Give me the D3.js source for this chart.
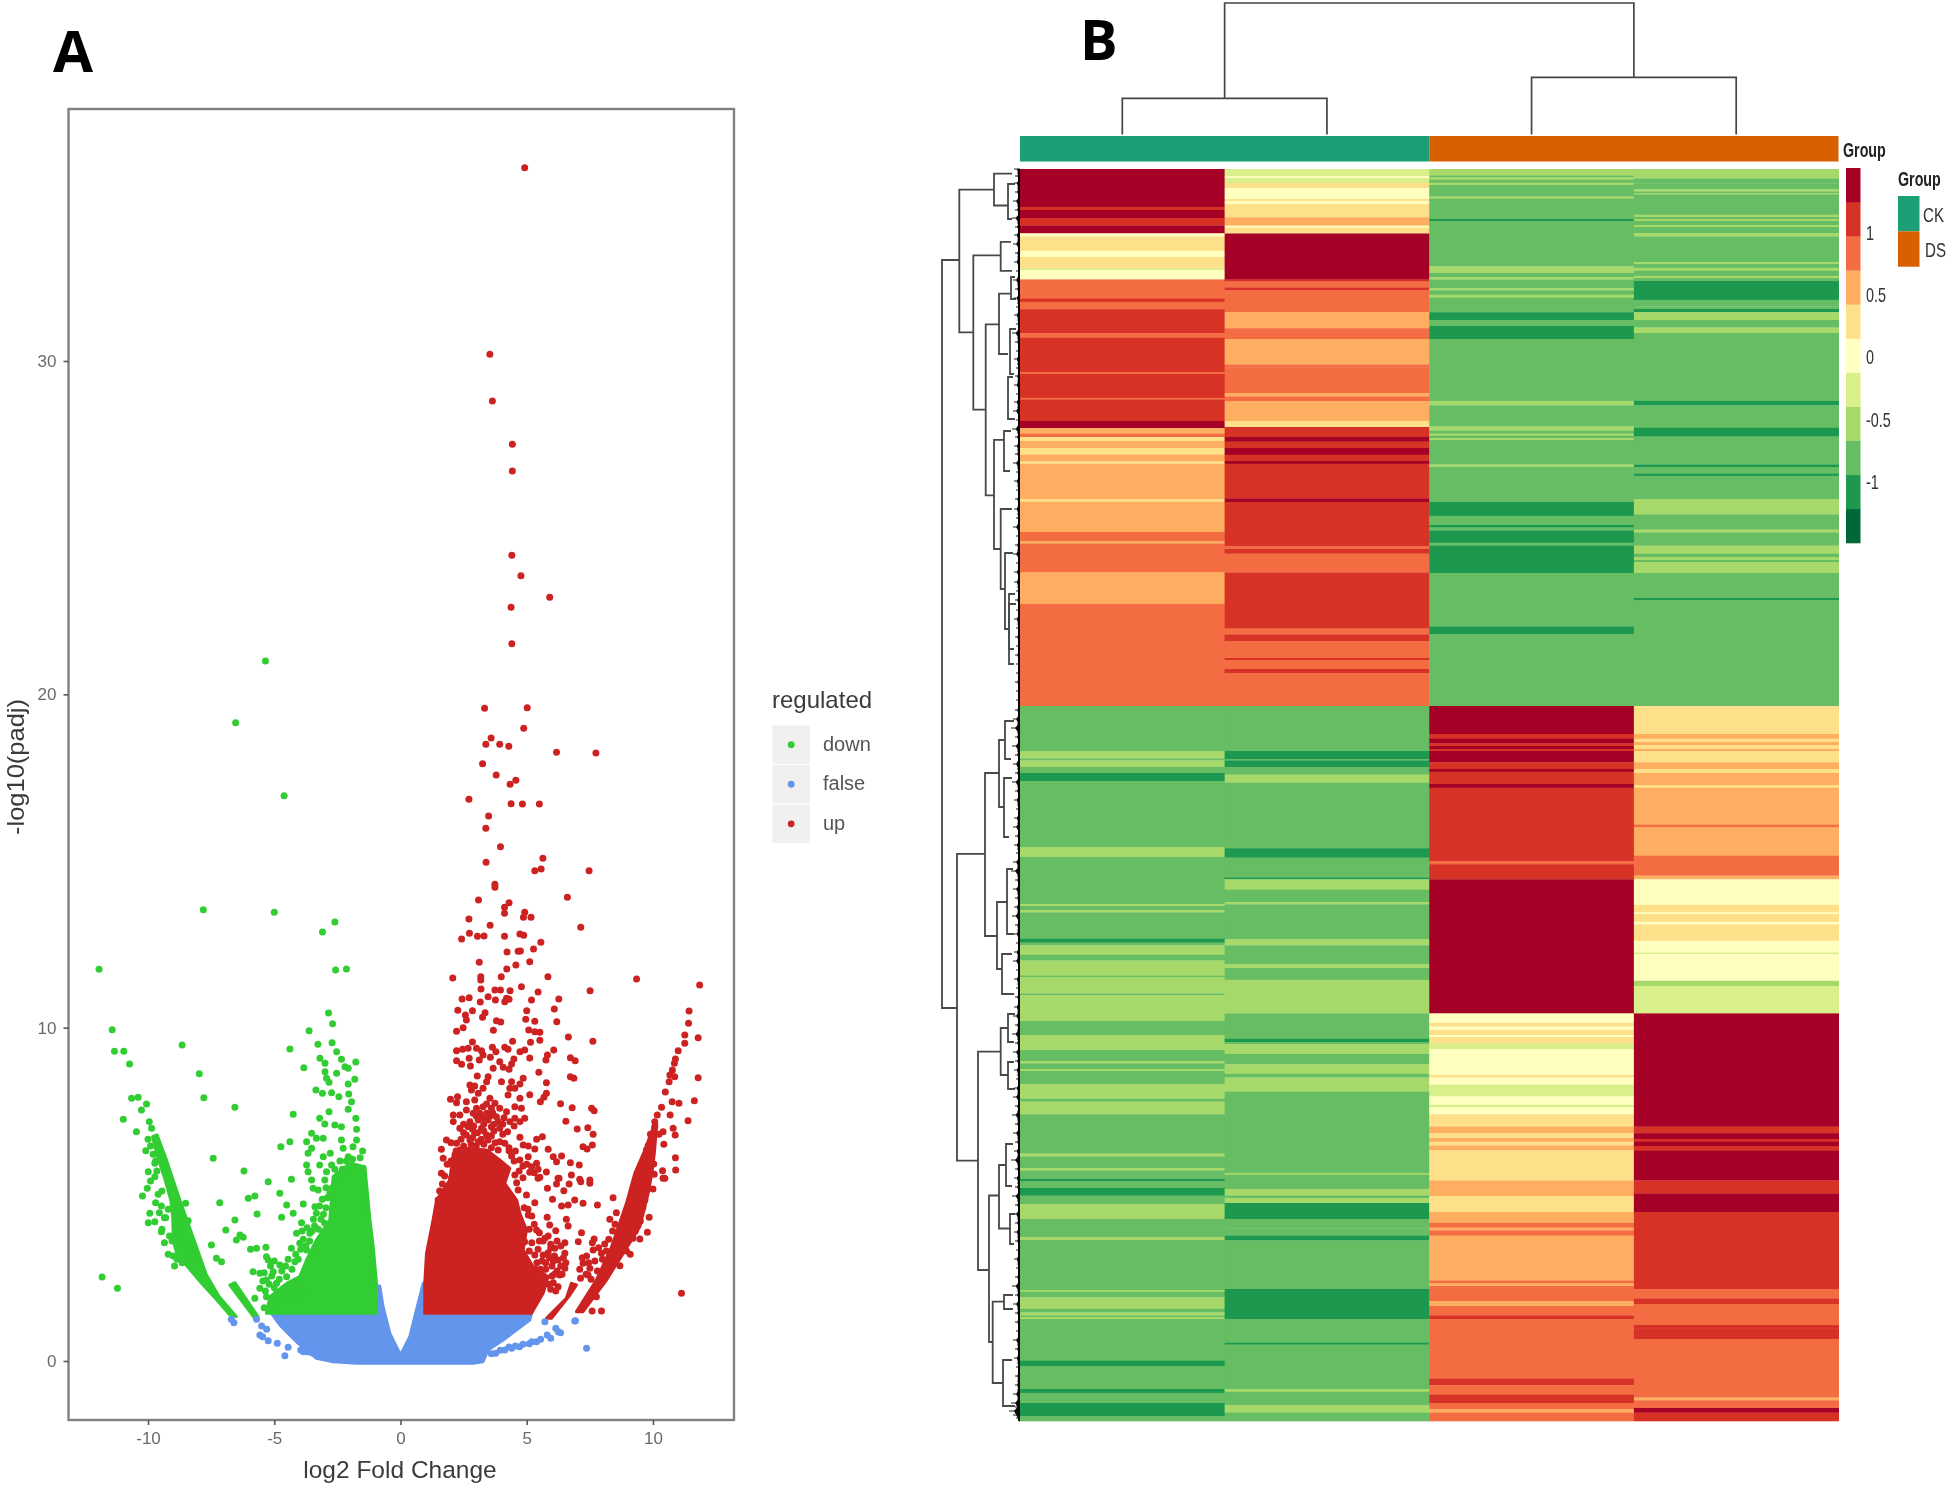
<!DOCTYPE html>
<html><head><meta charset="utf-8">
<script src="https://cdn.jsdelivr.net/npm/d3@7"></script>
<style>
html,body{margin:0;padding:0;background:#fff}
svg{display:block}
text{font-family:"Liberation Sans",Arial,sans-serif}
</style></head><body>
<svg id="c" width="1946" height="1487"></svg>
<script>
// ---------- Panel A: volcano ----------
const xTicks=[-10,-5,0,5,10], yTicks=[0,10,20,30];
const legendLabels=["down","false","up"];
// Solid clouds read as outlines [log2FC, -log10(padj)]
const falseCloud=[[-5.11,1.43],[-4.78,1.08],[-4.45,.83],[-4.05,.53],[-3.72,.33],[-3.33,.08],[-2.67,-.02],[-1.74,-.07],[2.88,-.07],[3.27,-.02],[3.47,.33],[4.07,.63],[4.59,.93],[5.12,1.23],[5.19,1.43],[.96,1.43],[.96,2.33],[.9,2.33],[.63,1.53],[.37,.73],[0,.18],[-.42,.83],[-.69,1.63],[-.82,2.25],[-.92,2.25],[-.92,1.43]];
const downCloud=[[-.95,1.43],[-.95,2.33],[-1.08,3.43],[-1.21,4.23],[-1.41,5.83],[-2.01,5.93],[-2.67,5.53],[-2.8,4.23],[-3.33,3.63],[-3.72,3.03],[-3.99,2.53],[-4.51,2.33],[-5.17,1.93],[-5.31,1.43]];
const downArm=[[-6.76,1.38],[-7.3,1.85],[-7.88,2.33],[-8.4,2.8],[-8.85,3.2],[-9,3.6],[-9.02,4.3],[-9.1,4.83],[-9.35,5.5],[-9.65,6.2],[-9.82,6.73],[-9.64,6.78],[-9.3,6.1],[-8.95,5.3],[-8.74,4.83],[-8.4,4.1],[-8.08,3.43],[-7.7,2.6],[-7.2,1.95],[-6.5,1.33]];
const downBand=[[-6.76,2.28],[-6.56,2.35],[-5.64,1.33],[-5.77,1.28]];
const upCloud=[[.96,1.43],[.96,2.33],[1.03,3.23],[1.29,4.23],[1.43,4.83],[1.95,5.43],[2.09,6.23],[2.61,6.38],[3.41,6.33],[3.93,6.03],[4.33,5.78],[4.13,5.33],[4.6,4.83],[4.73,4.43],[4.99,3.93],[4.86,3.33],[5.25,2.83],[5.85,2.53],[5.65,2.03],[5.19,1.43]];
const upArm=[[6.97,1.48],[7.76,2.43],[8.36,3.43],[8.95,4.73],[9.28,5.63],[9.68,6.33],[10.07,7.13],[10.15,7.1],[10.05,6.2],[9.95,5.6],[9.8,5],[9.48,4.03],[8.82,3.23],[8.16,2.43],[7.23,1.48]];
const upBand=[[5.78,1.28],[6.57,1.88],[6.77,2.33],[6.97,2.28],[6.71,1.98],[5.98,1.28]];
// Separate points
const falsePoints=[[-6.7,1.25],[-6.6,1.15],[-5.7,1.25],[-5.5,1.05],[-5.3,.95],[-5.57,.78],[-5.46,.73],[-5.24,.61],[-4.88,.53],[-4.45,.41],[-4.58,.16],[-3.85,.28],[-3.52,.25],[6.93,1.21],[7.37,.38],[5.72,1.18],[6.25,.88],[5.95,.68],[5.39,.58],[4.71,.43],[4.13,.33],[3.77,.23],[6.15,.98],[6.34,.85],[5.81,.78],[6.9,1.2],[5.1,.52],[4.4,.38],[3.6,.22],[3.95,.32],[4.3,.42],[4.55,.45],[4.85,.5],[5.2,.58],[5.55,.65],[-3.7,.28],[-3.95,.33]];
const downPoints=[[-5.35,21],[-6.53,19.15],[-4.61,16.96],[-7.81,13.54],[-5,13.46],[-2.6,13.17],[-3.09,12.87],[-11.94,11.75],[-2.57,11.73],[-2.14,11.76],[-2.85,10.44],[-2.69,10.12],[-3.62,9.91],[-11.42,9.94],[-11.33,9.29],[-10.96,9.29],[-10.73,8.91],[-8.65,9.48],[-7.97,8.62],[-4.38,9.36],[-3.27,9.5],[-2.71,9.55],[-3.83,8.8],[-2.53,9.28],[-2.34,9.05],[-3.19,9.08],[-2.99,8.93],[-1.77,8.97],[-2.2,8.83],[-2.07,8.78],[-2.99,8.68],[-2.53,8.63],[-2.93,8.48],[-1.81,8.45],[-2.07,8.31],[-2.83,8.36],[-3.35,8.13],[-3.09,8.03],[-2.73,8.05],[-2.44,7.93],[-2.05,8.01],[-1.94,7.78],[-2.07,7.55],[-7.79,7.9],[-10.65,7.88],[-10.39,7.91],[-10.06,7.71],[-10.26,7.53],[-6.56,7.61],[-4.25,7.4],[-2.83,7.48],[-3.2,7.28],[-10.98,7.25],[-9.95,7.18],[-9.86,6.98],[-10.46,6.88],[-3,7.11],[-2.6,7.08],[-2.34,7.03],[-1.77,7.28],[-1.74,6.95],[-3.52,6.83],[-3.72,6.58],[-3.33,6.68],[-3.06,6.68],[-2.34,6.63],[-1.74,6.63],[-4.38,6.58],[-4.74,6.43],[-1.88,6.43],[-3.52,6.38],[-2.27,6.38],[-2.78,6.23],[-10.09,6.31],[-3.66,6.23],[-3.06,6.13],[-2.07,6.13],[-7.42,6.08],[-3.72,5.88],[-3.2,5.88],[-2.73,5.88],[-3.66,5.68],[-3.52,5.43],[-2.93,5.68],[-3,5.43],[-6.2,5.7],[-9.99,5.68],[-9.73,5.93],[-9.73,5.53],[-4.32,5.45],[-5.24,5.38],[-3.46,5.18],[-3.26,5.13],[-2.8,5.03],[-4.78,5.03],[-10.03,5.18],[-10.22,4.95],[-5.77,4.95],[-6.03,4.88],[-8.51,4.73],[-7.16,4.75],[-4.51,4.68],[-3.85,4.71],[-3.39,4.63],[-9.47,4.65],[-4.25,4.43],[-3.33,4.43],[-5.68,4.41],[-4.71,4.31],[-9.93,4.43],[-9.99,4.15],[-9.73,4.18],[-6.56,4.23],[-3.92,4.15],[-8.41,4.21],[-3,4.13],[-6.92,3.93],[-9.47,3.88],[-4.12,3.83],[-6.36,3.78],[-6.23,3.71],[-6.5,3.63],[-3.59,3.83],[-3.99,3.53],[-7.49,3.48],[-5.94,3.35],[-5.7,3.38],[-5.33,3.41],[-4.32,3.38],[-3.72,3.33],[-7.29,3.08],[-7.09,2.98],[-5.31,3.13],[-5.24,3.03],[-4.18,2.98],[-4.78,2.88],[-5.84,2.68],[-5.57,2.63],[-5.04,2.68],[-4.51,2.53],[-5.31,2.43],[-5.57,2.18],[-4.91,2.33],[-4.12,2.33],[-5.77,1.88],[-5.31,1.93],[-4.84,1.93],[-11.82,2.52],[-11.21,2.18],[-5.4,1.6],[-5.1,1.6],[-4.6,1.7],[-4.2,1.9],[-3.85,2.1],[-9.05,3.6],[-8.75,3.3],[-9.3,4.3],[-9.2,3.2],
[-5.35,2.1],[-5.2,2.3],[-5.45,2.4],[-5.1,2.55],[-5,2.2],[-4.8,2.45],[-4.7,2.7],[-4.55,2.85],[-5.15,2.85],[-5,3],[-4.9,2.05],[-4.65,2.15],[-5.4,2.65],[-4.45,3.05],[-4.3,2.75],[-4.15,3.2],[-4.05,3.05],[-3.95,3.35],[-3.85,3.65],[-3.75,3.45],[-3.6,3.6],[-3.5,3.9],[-3.4,4.05],[-3.25,3.95],[-3.15,4.25],[-3.05,4.4],[-3.45,4.25],[-3.7,4],[-3.9,3.9],[-3.2,4.65],[-3.1,4.85],[-2.95,4.6],[-2.9,4.9],[-2.7,5.2],[-2.95,5.2],[-2.5,5.55],[-2.3,5.75],[-2.15,6],[-1.9,6.05],[-2.6,5.75],[-2.4,6],[-1.6,6.1],[-1.5,6.3],
[-9.45,5.1],[-9.6,5],[-9.7,4.75],[-9.55,4.45],[-9.35,4.3],[-9.2,4.55],[-9.45,3.95],[-9.15,3.75],[-9.35,3.55],[-9,3.15],[-8.85,3.05],[-8.65,2.95],[-8.95,2.85],[-9.7,6],[-9.8,6.2],[-9.9,6.45],[-10,6.65],[-9.65,5.7],[-9.9,5.4],[-8.9,4.4],[-8.7,4.15],[-8.8,3.75],[-8.6,3.5],[-8.45,3.15]];
const upPoints=[[4.92,35.8],[3.54,30.2],[3.64,28.8],[4.43,27.5],[4.43,26.7],[4.41,24.17],[4.77,23.56],[5.91,22.91],[4.38,22.61],[4.41,21.52],[3.33,19.58],[5.02,19.6],[4.88,18.98],[3.59,18.69],[3.38,18.5],[3.93,18.5],[4.29,18.44],[6.18,18.26],[7.74,18.24],[3.25,17.92],[3.79,17.58],[4.57,17.42],[4.34,17.3],[2.71,16.85],[4.38,16.72],[4.83,16.71],[5.5,16.71],[3.49,16.35],[3.38,15.98],[3.96,15.43],[3.39,14.96],[5.64,15.08],[5.32,14.71],[5.57,14.76],[7.47,14.71],[3.74,14.3],[3.74,14.21],[6.61,13.91],[3.09,13.83],[4.3,13.75],[4.12,13.61],[4.12,13.43],[4.92,13.46],[4.87,13.31],[5.17,13.31],[2.71,13.26],[3.55,13.07],[7.14,13.01],[2.73,12.83],[2.42,12.66],[3.05,12.74],[3.31,12.75],[4.12,12.74],[4.73,12.81],[4.88,12.77],[5.56,12.56],[5.27,12.36],[4.22,12.27],[4.66,12.29],[4.75,12.3],[3.12,11.96],[4.57,11.88],[5.12,11.98],[4.21,11.76],[3.99,11.53],[3.18,11.53],[2.07,11.49],[5.84,11.53],[9.35,11.46],[11.85,11.28],[3.18,11.43],[3.19,11.16],[3.74,11.13],[3.96,11.13],[4.34,11.11],[4.79,11.23],[5.45,11.07],[7.51,11.11],[3.47,10.93],[2.72,10.9],[2.44,10.86],[4.2,10.88],[3.76,10.83],[5.19,10.83],[6.27,10.86],
[3.16,10.77],[4.13,10.78],[4.3,10.85],[2.27,10.52],[2.85,10.51],[3.35,10.45],[3.25,10.31],[5,10.51],[6.09,10.56],[11.43,10.5],[2.57,10.38],[2.61,10.23],[3.8,10.21],[3.97,10.17],[4.96,10.25],[5.32,10.19],[6.19,10.18],[11.41,10.13],[2.48,10],[2.22,9.89],[3.68,9.92],[5.08,9.93],[5.32,9.88],[5.52,9.86],[6.65,9.72],[11.26,9.78],[11.79,9.7],[5.52,9.62],[5.15,9.56],[4.44,9.59],[7.62,9.59],[2.85,9.57],[11.26,9.53],[2.22,9.31],[2.46,9.35],[2.68,9.38],[3.01,9.38],[3.21,9.31],[3.64,9.41],[3.78,9.28],[4.13,9.41],[4.26,9.35],[4.73,9.28],[4.92,9.33],[6.07,9.33],[11,9.31],[3.27,9.18],[3.56,9.11],[5.12,9.09],[5.82,9.18],[5.76,9.03],[6.73,9.1],[6.92,9.01],[10.89,9.06],[2.22,9.01],[2.42,8.9],[2.72,9.08],[2.77,8.85],[3.12,9.03],[3.93,8.98],[4.49,9.06],[4.4,8.91],[3.67,8.78],[4.07,8.81],[4.3,8.75],[10.85,8.93],[10.77,8.73],[10.67,8.58],[10.86,8.53],[10.64,8.38],[5.48,8.66],[3.04,8.55],[3.47,8.53],[6.73,8.53],[6.87,8.48],[11.79,8.5],[3.41,8.38],[4,8.38],[4.86,8.48],[5.78,8.35],[4.4,8.38],[4.73,8.31],[2.75,8.28],[2.94,8.25],[3.27,8.18],[4.33,8.18],[4.53,8.18],[2.81,8.13],[3.08,8.03],[10.49,8.07],[4.26,7.98],[5.12,7.99],[5.78,8.03],[5.68,7.91],[5.54,7.78],[4.73,7.88],[2.26,7.93],[1.98,7.85],[2.22,7.75],[2.61,7.78],[2.94,7.83],[3.54,7.88],[3.41,7.71],[3.74,7.73],[10.76,7.78],[11.03,7.73],[11.64,7.81],[6.34,7.72],[10.34,7.61],[6.8,7.6],[7.57,7.58],[7.67,7.51],[2.61,7.53],[3.01,7.58],[3.27,7.63],[3.6,7.58],[3.93,7.58],[4.2,7.48],[4.53,7.63],[4.79,7.58],[10.68,7.38],[10.17,7.38],[2.09,7.38],[2.35,7.38],[2.88,7.43],[3.14,7.43],[3.41,7.43],[3.8,7.33],[4.53,7.28],[4.92,7.28],[2.09,7.18],[2.75,7.18],[3.08,7.23],[3.47,7.23],[3.87,7.18],[4.33,7.18],[4.73,7.18],[11.39,7.21],[6.55,7.19],[10.07,7.18],[10.07,7.03],[2.35,6.98],[2.68,7.03],[3.21,6.98],[3.6,7.03],[3.93,6.98],[7,6.96],[7.42,7],[10.8,6.98],[10.4,6.88],[9.9,6.8],[10.24,6.8],[10.88,6.78],[7.63,6.8],[4.24,6.88],[2.61,6.78],[2.94,6.83],[3.41,6.78],[4.73,6.71],[5.39,6.65],[5.62,6.73],[1.82,6.63],[2.22,6.53],[2.75,6.63],[3.08,6.58],[3.47,6.63],[3.93,6.58],[4.86,6.48],[5.06,6.45],[4.13,6.53],[10.43,6.5],[7.6,6.48],[7.23,6.43],[7.39,6.36],[9.81,6.46],[9.74,6.33],[5.32,6.36],[5.85,6.35],[1.62,6.35],[4.3,6.31],[3.87,6.33],[2.35,6.33],[10.89,6.1],[1.69,6.08],[4.73,6.03],[5.06,6.13],[6.05,6.13],[6.38,6.15],[6.18,5.98],[6.73,5.95],[7.08,5.88],[5.39,5.93],[10.03,5.91],[9.68,5.88],[5.19,5.83],[10.9,5.73],[10.38,5.71],[9.41,5.68],[1.62,5.63],[5.78,5.67],[5.12,5.66],[4.53,5.58],[6.77,5.58],[5.52,5.51],[6.28,5.48],[2.02,5.48],[10.47,5.48],[9.35,5.51],[7.1,5.45],[7.5,5.43],
[1.66,5.31],[1.49,4.83],[5.45,5.48],[6.24,5.48],[6.18,5.31],[5.82,5.18],[6.68,5.31],[6.47,5.11],[7.14,5.38],[7.5,5.33],[8.42,4.9],[7.8,4.68],[6.02,4.85],[6.38,4.65],[6.9,4.83],[7.23,4.73],[6.64,4.68],[5.32,4.75],[4.99,4.98],[4.66,5.13],[8.29,4.25],[8.55,4.45],[9.85,4.31],[5.81,4.31],[6.57,4.25],[6.64,4.05],[5.91,4.08],[6.15,3.91],[5.39,3.93],[5.06,4.38],[7.17,3.85],[7.04,3.58],[7.67,3.66],[9.78,3.86],[9.48,3.66],[8.09,3.51],[5.72,3.68],[6.51,3.55],[4.92,3.58],[7.63,3.33],[7.37,3.15],[7.96,3.23],[6.51,3.23],[6.11,3.38],[5.32,3.18],[5.65,3.18],[7.23,2.93],[7.5,2.78],[8.69,2.86],[6.51,2.78],[6.24,3.03],[6.31,2.58],[7.43,2.58],[7.13,2.48],[6.24,2.23],[7.76,1.93],[7.59,1.5],[7.96,1.5],[11.13,2.03],[10,5.16],[9.35,5.13],[9.68,4.83],[9.35,4.43],[9.21,3.68],[10.4,5.48],[5.5,3.6],[5.95,3.5],[5.75,2.95],[6,2.85],[6.1,2.6],[5.55,2.75],[5.9,3.1],
[4.9,4.6],[5.05,4.55],[5.2,4.35],[5.3,4.1],[5.1,3.95],[5.5,3.85],[5.65,3.6],[5.85,3.75],[5.95,3.4],[6.2,3.6],[6.35,3.45],[6.45,3.1],[5.2,3.55],[5.1,3.3],[5.45,3.35],[5.85,3.25],[6.1,3.15],[5.4,2.95],[5.6,3],[6.05,3],[6.35,2.85],[6.55,2.95],[5.35,2.75],[5.75,2.75],[6,2.55],[6.2,2.7],[6.4,2.6],[6.05,2.35],[6.15,2.1],[5.95,2.15],[5.85,2.3],[7.2,3.1],[7.45,2.95],[7.1,2.75],[7.35,2.6],[7.55,2.45],[7.7,3],[7.8,2.7],[7.85,3.4],[7.6,3.55],[8,3.05],[8.15,3.3],[8.25,3.65],[8.4,3.9],[8.5,4.1],[8.7,4],[9.1,3.2],[9.3,3.9],[9.5,4.2],[9.6,4.6],[9.75,5.3],[10.05,5.6],[8.95,3.3],[9.15,4.7],
[2.5,6.45],[2.8,6.5],[3,6.45],[3.3,6.5],[3.6,6.4],[2,6.55],[2.2,6.3],[2.4,6.65],[2.85,6.7],[3.2,6.65],[3.6,6.75],[3.75,6.55],[2.5,6.85],[2.85,6.95],[3.05,6.85],[3.3,6.9],[3.7,6.9],[4.05,6.8],[2.5,7.1],[2.9,7.05],[3.3,7.1],[3.7,7.1],[4.05,7.1],[4.5,7.05],[3,7.35],[3.25,7.3],[3.55,7.35],[3.65,7.45],[4.1,7.3],[4.3,6.4],[4.55,6.3],[4.5,6],[4.4,6.15],[4.85,5.85],[4.7,5.7],[5,5.9],[4.85,5.5],[4.6,5.35],[5.3,5.65],[5.45,5.75],[2,6],[1.85,5.9],[1.75,5.55],[1.9,5.25],[1.55,5.1]];
// ---------- Panel B: heatmap ----------
const groups=["CK","DS"];
const legendBreaks=[-1,-0.5,0,0.5,1];
const barColors=["#1b9e77","#d95f02"];
const levelColors=["#006837","#1a9850","#66bd63","#a6d96a","#d9ef8b","#ffffbf","#fee08b","#fdae61","#f46d43","#d73027","#a50026"];
// Runs per sample: [last row of the run, colour level 0..10]
const sample1=[[38,10],[41,9],[49,10],[56.5,9],[64.3,10],[67.5,5],[81.8,6],[88,5],[99.4,6],[101,4],[110.4,5],[129.6,8],[132.8,9],[140.2,8],[164.3,9],[168.8,8],[203,9],[205,8],[228.8,9],[230.4,8],[252,9],[259,10],[264.7,7],[268,8],[272,6],[279,7],[285.5,6],[292.4,7],[294.9,6],[330,7],[332.8,6],[363,7],[372,8],[374.5,7],[403.4,8],[434.9,7],[537,8],[582,2],[589.5,3],[591.4,2],[598,3],[604,2],[612,1],[678,2],[682,3],[688,3],[735,2],[737,3],[741,2],[743.4,3],[769.8,2],[773.6,1],[776.4,2],[785.8,3],[791.5,2],[806.6,3],[808,2],[824.5,3],[826,2],[852,3],[866,2],[881,3],[892,2],[894.3,3],[900,2],[902,3],[915,2],[929.8,3],[932.6,2],[945.3,3],[984.5,2],[987.4,3],[999,2],[1001.5,3],[1010,2],[1012.4,1],[1019,2],[1026.6,1],[1035,2],[1050,3],[1068,2],[1071,3],[1121,2],[1122.8,3],[1128.4,2],[1139.8,3],[1143.5,2],[1146.4,3],[1148,2],[1150,3],[1191.7,2],[1197,1],[1220,2],[1223.8,1],[1234,2],[1247.4,1],[1252,2]];
const sample2=[[7.2,4],[9,5],[14,4],[19,6],[30,5],[32,6],[35,5],[48.3,6],[56.6,7],[58.5,5],[64.5,6],[110.5,10],[112.5,9],[118.5,8],[121.4,9],[143.2,8],[159.2,7],[170,8],[173,7],[195.5,7],[198.5,8],[224,8],[227.5,7],[232,8],[252,7],[258,6],[268,9],[272.6,10],[279,9],[285.7,10],[292,9],[294.8,10],[329.4,9],[333,10],[377.4,9],[380,8],[384.6,9],[403.5,8],[459.5,9],[465.4,8],[472,9],[489,8],[491,9],[500,8],[504,9],[537,8],[582,2],[590,1],[591.4,2],[598,1],[605.6,2],[613.6,3],[679.2,2],[688.6,1],[693.8,2],[708.4,2],[710.3,1],[720.7,3],[733,2],[735.3,3],[770.3,2],[776.4,3],[795.3,2],[799,3],[810.8,2],[844.4,3],[869.8,2],[873,1],[875,2],[885,3],[895.3,2],[904.8,3],[908.5,2],[922.7,3],[1003.9,2],[1005.7,3],[1019.9,2],[1026.5,3],[1028.9,2],[1034,3],[1050,1],[1059.5,2],[1066.6,2],[1071.4,1],[1120,2],[1150,1],[1173.7,2],[1175.6,1],[1220,2],[1222.8,3],[1236,2],[1243.6,3],[1252,2]];
const sample3=[[6.5,3],[8.3,2],[10.8,3],[13.7,2],[16,3],[27.5,2],[29.7,3],[50,2],[52,1],[97.4,2],[104,3],[108.3,2],[110.5,3],[119.2,2],[121.4,3],[125.7,2],[128.6,3],[143.2,2],[151.2,1],[157,2],[170,1],[231.9,2],[236.3,3],[257.4,2],[261.7,3],[264.6,2],[266.8,3],[269,2],[271,3],[295.5,2],[298,3],[333,2],[346.8,1],[356,2],[358.5,1],[361.4,2],[373.7,1],[376.6,2],[404,1],[457.4,2],[465.4,1],[537,2],[565,10],[569.7,9],[574.4,10],[577,9],[580,10],[582,9],[593.3,10],[600,9],[602.7,10],[615,9],[618.8,10],[692.4,9],[695.2,8],[710.3,9],[844.4,10],[853.8,5],[857.6,6],[861,5],[866,6],[868,5],[874.6,6],[880.2,4],[906,5],[908.5,6],[915.6,5],[927.4,4],[935.9,5],[938,4],[945.3,5],[957.6,6],[964.2,7],[969,6],[972.7,7],[976.5,6],[981.2,7],[1011.4,6],[1024,7],[1027,7],[1043,6],[1053.9,7],[1058.6,8],[1061.4,7],[1066.6,8],[1111.5,7],[1114,8],[1117,7],[1132,8],[1137,7],[1146.4,8],[1150,9],[1209.6,8],[1216.2,9],[1225.7,8],[1234,9],[1240,8],[1243.6,7],[1252,8]];
const sample4=[[9.4,3],[14.5,2],[20.3,2],[22.5,3],[24,2],[25.4,3],[45.7,2],[48,3],[50,2],[52,3],[56,2],[58,3],[64,2],[67.5,3],[93,2],[95,3],[98.8,2],[101.7,3],[106.8,2],[109,3],[112,2],[116,1],[130.8,1],[137.4,2],[140,2],[143.2,1],[151,3],[158.5,2],[164,3],[231.9,2],[236.3,1],[258.8,2],[267.5,1],[271,2],[295.5,2],[298,1],[304.6,2],[306.8,1],[330,2],[345.4,3],[360.6,2],[363.5,3],[376.6,2],[384.6,3],[388,2],[391,3],[393,2],[404,3],[429,2],[431,1],[537,2],[565,6],[569.7,7],[573,6],[576,7],[580,6],[582,7],[593.3,6],[600,7],[604,6],[616,7],[618.8,6],[655.6,7],[658.4,8],[686.7,7],[706.6,8],[710.3,7],[735.8,5],[743.4,6],[745,5],[752.8,6],[755.5,5],[771.7,6],[783.5,5],[785,4],[811.8,5],[817,3],[844.4,4],[957.6,10],[964.2,9],[969.9,10],[972.7,9],[977,10],[981.7,9],[1011.4,10],[1024.6,9],[1043,10],[1120,9],[1129.4,8],[1135,9],[1156,8],[1159.6,9],[1170,9],[1228.5,8],[1231.3,7],[1239,8],[1243.6,10],[1252,9]];
const samples=[sample1,sample2,sample3,sample4];
// Column tree nodes
const colTreeNodes=[{h:131,a:.5,b:2.5,ha:36,hb:57},{h:36,a:0,b:1,ha:0,hb:0},{h:57,a:2,b:3,ha:0,hb:0}];
// Row tree: [height, top row, bottom row, height of top child, height of bottom child]
const rowTree=[[78,91,839,60.7,63],[60.7,20.6,163.4,26,46.7],[26,4.7,36.5,8,12],[46.7,86.3,240.6,19.3,34.3],[19.3,72.8,101.8,9,8],[34.3,155.3,326.3,21,26],[21,124.7,185,10,12],[26,270.8,380,16,19.3],[16,262,302,9,10],[19.3,340,420,8,15],[15,384,460,7,11],[11,425,495,5,6],[12,15,50,5,8],[63,684.8,991.6,35,42],[35,604,767,21,23],[21,571,638,15,16],[15,552,590,6,9],[16,609,668,8,11],[23,733,800,13,18],[13,700,765,7,6],[18,785,825,8,6],[42,882.6,1101,19.3,31],[19.3,859,906,12,12],[12,845,873,5,6],[12,893,920,6,5],[31,1026.5,1173,21,27.3],[21,996,1059.5,14,10],[14,975,1017,7,8],[10,1045,1075,5,6],[27.3,1132.7,1214,16,17],[16,1126,1140,7,7],[17,1191,1237,8,5],[11,435,480,4,6],[9,108,130,5,4],[10,160,205,4,6],[12,208,250,7,5]];
// Ragged edge of the tips of the row tree: [row, height]
const rowLeaves=[[0,6],[4,3],[7,5],[11,2],[14,6],[19,3],[23,5],[28,2],[32,7],[37,3],[41,5],[45,2],[49,8],[54,3],[58,5],[62,2],[66,6],[71,3],[75,7],[80,2],[84,5],[88,3],[93,6],[98,2],[102,4],[106,2],[111,7],[116,3],[120,5],[125,2],[129,6],[134,3],[138,4],[142,2],[146,6],[151,3],[155,4],[160,2],[164,8],[169,3],[173,5],[178,2],[182,4],[186,2],[190,6],[195,3],[199,4],[203,2],[207,5],[212,3],[216,6],[221,2],[225,4],[229,2],[233,6],[238,3],[242,7],[247,2],[251,4],[255,2],[260,8],[264,3],[268,5],[273,2],[277,6],[281,3],[285,5],[290,2],[294,7],[299,3],[303,4],[308,2],[312,6],[317,3],[321,4],[326,2],[330,5],[335,2],[340,6],[345,3],[349,4],[353,2],[358,7],[363,2],[367,4],[372,2],[376,5],[381,3],[385,7],[390,2],[394,4],[399,2],[403,6],[408,2],[413,6],[418,3],[422,4],[427,2],[431,5],[436,2],[441,4],[446,2],[450,6],[455,3],[459,4],[464,2],[468,5],[473,2],[477,4],[482,2],[486,5],[491,2],[495,4],[500,2],[504,4],[509,2],[513,5],[518,2],[522,4],[527,2],[531,4],[537,2],[541,5],[546,2],[550,7],[555,3],[559,9],[564,3],[568,5],[573,2],[577,8],[582,3],[586,5],[590,2],[595,7],[600,3],[604,5],[609,2],[613,8],[618,3],[622,5],[627,2],[631,6],[636,3],[640,4],[645,2],[649,6],[654,3],[658,7],[663,2],[667,5],[672,2],[676,6],[680,3],[684,4],[689,2],[693,7],[698,3],[702,9],[707,3],[711,5],[716,2],[720,7],[725,3],[729,5],[734,2],[738,6],[743,3],[747,8],[752,2],[756,5],[761,3],[765,6],[770,2],[774,4],[779,2],[783,6],[788,3],[792,7],[797,2],[801,4],[806,2],[810,6],[815,3],[819,4],[824,2],[828,5],[833,2],[838,6],[843,3],[847,7],[852,2],[856,5],[861,3],[865,8],[870,3],[874,5],[879,2],[883,7],[888,3],[892,5],[897,2],[901,6],[906,3],[910,4],[915,2],[919,6],[924,3],[928,7],[933,2],[937,5],[942,3],[946,8],[951,3],[955,5],[960,2],[964,7],[969,3],[973,5],[978,2],[982,6],[987,3],[991,9],[996,3],[1000,5],[1005,2],[1009,6],[1014,3],[1018,5],[1023,2],[1027,8],[1032,3],[1036,5],[1041,2],[1045,7],[1050,3],[1054,5],[1059,2],[1063,6],[1068,3],[1072,5],[1077,2],[1081,4],[1086,2],[1090,6],[1095,3],[1099,4],[1104,2],[1108,5],[1113,2],[1117,8],[1122,3],[1126,5],[1131,2],[1135,7],[1140,3],[1144,5],[1149,2],[1153,5],[1158,2],[1162,4],[1167,2],[1171,7],[1176,3],[1180,5],[1185,2],[1189,6],[1194,3],[1198,4],[1203,2],[1207,5],[1212,3],[1216,5],[1221,3],[1225,7],[1230,3],[1234,9],[1238,5],[1242,11],[1246,7],[1249,4],[1252,1]];

const svg=d3.select("#c");
svg.append("rect").attr("width",1946).attr("height",1487).attr("fill","#fff");
svg.append("filter").attr("id","soft").attr("x","-2%").attr("y","-2%").attr("width","104%").attr("height","104%")
  .append("feGaussianBlur").attr("stdDeviation",.55);

// ---- Volcano ----
const x=d3.scaleLinear().domain([-13.15,13.21]).range([68.5,734]);
const y=d3.scaleLinear().domain([-1.77,37.56]).range([1420,109]);
const A=svg.append("g").attr("filter","url(#soft)");
const blobs=A.append("g").attr("stroke-linejoin","round").attr("stroke-width",3);
const line=d3.line().x(d=>x(d[0])).y(d=>y(d[1])).curve(d3.curveLinearClosed);
const colours={down:"#32cd32",false:"#6495ed",up:"#cc2424"};
[[falseCloud,"false"],[downCloud,"down"],[downArm,"down"],[downBand,"down"],[upCloud,"up"],[upArm,"up"],[upBand,"up"]].forEach(([d,k])=>{
  blobs.append("path").datum(d).attr("d",line).attr("fill",colours[k]).attr("stroke",colours[k]);
});
[[falsePoints,"false"],[downPoints,"down"],[upPoints,"up"]].forEach(([d,k])=>{
  A.append("g").selectAll("circle").data(d).join("circle")
   .attr("cx",p=>x(p[0])).attr("cy",p=>y(p[1])).attr("r",3.5).attr("fill",colours[k]);
});
A.append("rect").attr("x",x.range()[0]).attr("y",y.range()[1])
 .attr("width",x.range()[1]-x.range()[0]).attr("height",y.range()[0]-y.range()[1])
 .attr("fill","none").attr("stroke","#808080").attr("stroke-width",2.4);
const gx=A.append("g").attr("transform","translate(0,1420)").call(d3.axisBottom(x).tickValues(xTicks).tickSize(5).tickPadding(7).tickFormat(String));
const gy=A.append("g").attr("transform","translate(68.5,0)").call(d3.axisLeft(y).tickValues(yTicks).tickSize(5).tickPadding(7).tickFormat(String));
[gx,gy].forEach(g=>{g.select(".domain").remove();
  g.selectAll("line").attr("stroke","#555").attr("stroke-width",1.6);
  g.selectAll("text").attr("fill","#6a6a6a").style("font-size","17px").style("font-family",'"Liberation Sans"');});
A.append("text").attr("x",400).attr("y",1478).attr("text-anchor","middle").attr("fill","#3a3a3a").style("font-size","24.5px").text("log2 Fold Change");
A.append("text").attr("transform","translate(24,767) rotate(-90)").attr("text-anchor","middle").attr("fill","#3a3a3a").style("font-size","24px").attr("textLength",136).attr("lengthAdjust","spacingAndGlyphs").text("-log10(padj)");
A.append("text").attr("x",772).attr("y",708).attr("fill","#3a3a3a").style("font-size","24px").text("regulated");
const keyY=d3.scaleBand().domain(legendLabels).range([725.5,843]).paddingInner(.03);
const keys=A.append("g").selectAll("g").data(legendLabels).join("g").attr("transform",d=>`translate(772.5,${keyY(d)})`);
keys.append("rect").attr("width",37.5).attr("height",keyY.bandwidth()).attr("fill","#f0f0f0");
keys.append("circle").attr("cx",18.7).attr("cy",keyY.bandwidth()/2).attr("r",3.4).attr("fill",d=>colours[d]);
keys.append("text").attr("x",50.5).attr("y",keyY.bandwidth()/2+6).attr("fill","#555").style("font-size","20px").text(d=>d);

// ---- Heatmap ----
const B=svg.append("g").attr("filter","url(#soft)");
const cx=d3.scaleBand().domain(d3.range(samples.length)).range([1020,1838.5]);
const ry=d3.scaleLinear().domain([0,1252]).range([169,1421]);
const colorOf=d3.scaleOrdinal().domain(d3.range(11)).range(levelColors);
samples.forEach((runs,i)=>{
  let start=0;
  const cells=runs.map(r=>{const c={s:start,e:r[0],l:r[1]};start=r[0];return c;});
  B.append("g").selectAll("rect").data(cells).join("rect")
   .attr("x",cx(i)).attr("width",cx.bandwidth()+.5)
   .attr("y",d=>ry(d.s)).attr("height",d=>ry(d.e)-ry(d.s)+.3).attr("fill",d=>colorOf(d.l));
});
// annotation bar
B.append("g").selectAll("rect").data(barColors).join("rect")
 .attr("x",(d,i)=>cx(i*2)).attr("width",cx.bandwidth()*2).attr("y",136).attr("height",25.5).attr("fill",d=>d);
// column tree
const ch=d3.scaleLinear().domain([0,131]).range([134.5,3]);
const cpos=s=>cx(Math.floor(s))+cx.bandwidth()/2+(s%1)*cx.bandwidth();
const colTree=B.append("g").attr("fill","none").attr("stroke","#444").attr("stroke-width",1.7);
colTree.selectAll("path").data(colTreeNodes).join("path").attr("d",d=>{
  const xa=cpos(d.a),xb=cpos(d.b);
  return `M${xa},${ch(d.ha)}V${ch(d.h)}H${xb}V${ch(d.hb)}`;
});
// row tree
const rh=d3.scaleLinear().domain([0,78]).range([1020,942]);
const rowG=B.append("g").attr("fill","none").attr("stroke","#484848").attr("stroke-width",1.8);
rowG.selectAll("path").data(rowTree).join("path").attr("d",d=>
  `M${rh(d[3])},${ry(d[1])}H${rh(d[0])}V${ry(d[2])}H${rh(d[4])}`);
// stems and ragged tips
const tips=B.append("g").attr("fill","none").attr("stroke","#333").attr("stroke-width",1.1);
tips.selectAll("path").data(rowLeaves).join("path").attr("d",d=>`M${rh(0)},${ry(d[0])}H${rh(d[1])}`);
B.append("path").datum(rowLeaves).attr("fill","#111")
 .attr("d",d3.area().x0(rh(0)).x1(d=>rh(d[1]*.55)).y(d=>ry(d[0])));
B.append("line").attr("x1",1019).attr("x2",1019).attr("y1",ry(0)).attr("y2",ry(1252)).attr("stroke","#000").attr("stroke-width",2);

// colour bar
const barY=d3.scaleBand().domain(d3.range(10,-1,-1)).range([168,543]);
B.append("g").selectAll("rect").data(d3.range(11)).join("rect")
 .attr("x",1846).attr("width",14.5).attr("y",d=>barY(d)).attr("height",barY.bandwidth()+.3).attr("fill",d=>levelColors[d]);
const barScale=d3.scaleLinear().domain([-1,1]).range([481.7,233]);
const sq=(sel,xp,yp,sx)=>sel.attr("transform",`translate(${xp},${yp}) scale(${sx},1)`);
B.append("g").selectAll("text").data(legendBreaks).join("text")
 .attr("transform",d=>`translate(1866,${barScale(d)+7}) scale(.72,1)`)
 .attr("fill","#333").style("font-size","20px").text(String);
// labels
sq(B.append("text").attr("font-weight","700").attr("fill","#222").style("font-size","21px").text("Group"),1843,157,.68);
sq(B.append("text").attr("font-weight","700").attr("fill","#222").style("font-size","21px").text("Group"),1898,186,.68);
const gKey=d3.scaleBand().domain(groups).range([196,266.7]);
B.append("g").selectAll("rect").data(groups).join("rect").attr("x",1898).attr("width",21.5)
 .attr("y",d=>gKey(d)).attr("height",gKey.bandwidth()).attr("fill",(d,i)=>barColors[i]);
B.append("g").selectAll("text").data(groups).join("text")
 .attr("transform",(d,i)=>`translate(${1923+i*2},${gKey(d)+gKey.bandwidth()/2+8}) scale(.72,1)`)
 .attr("fill","#333").style("font-size","21px").text(d=>d);

// panel letters
const L=svg.append("g").attr("filter","url(#soft)");
L.append("text").attr("x",53).attr("y",72).style("font-family",'"Open Sans"').attr("font-weight",700).style("font-size","58px").attr("fill","#000").text("A");
L.append("text").attr("x",1080).attr("y",60).style("font-family",'"Open Sans"').attr("font-weight",700).style("font-size","56px").attr("fill","#000").text("B");
</script>
</body></html>
